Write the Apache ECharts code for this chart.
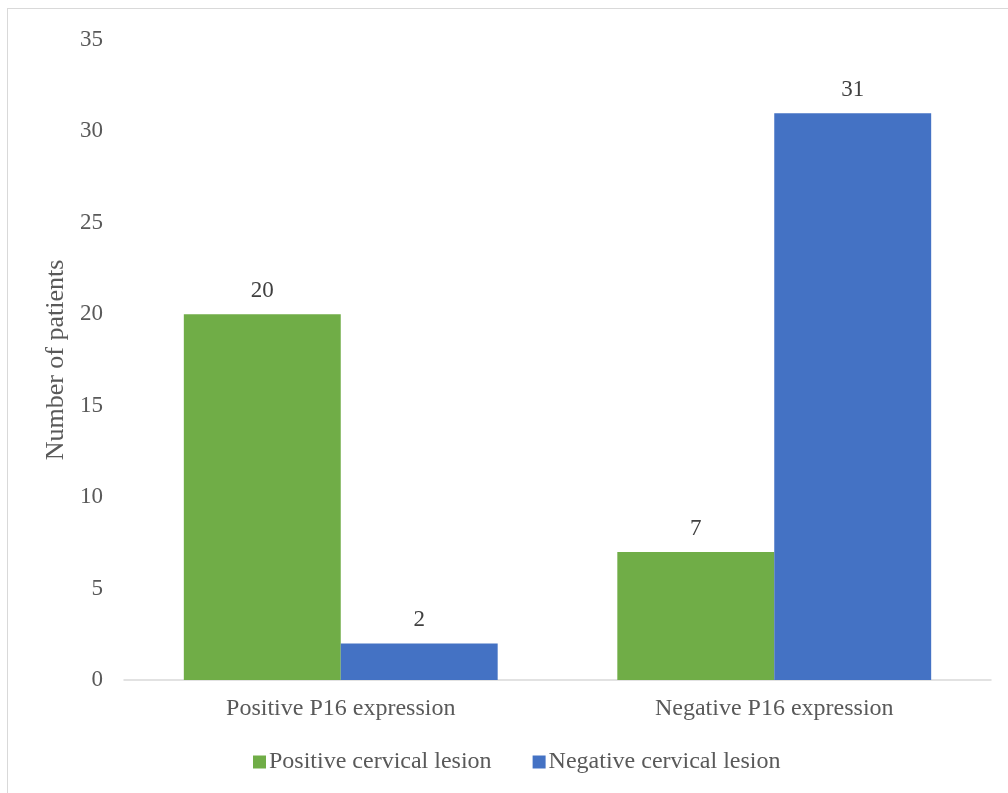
<!DOCTYPE html>
<html>
<head>
<meta charset="utf-8">
<script src="https://cdn.jsdelivr.net/npm/echarts@6/dist/echarts.min.js"></script>
<style>
  html, body { margin: 0; padding: 0; background: #fff; }
  #frame { position: absolute; left: 7px; top: 8px; width: 1010px; height: 800px; border-left: 1.5px solid #d9d9d9; border-top: 1.5px solid #d9d9d9; box-sizing: border-box; }
  #chart { width: 1008px; height: 793px; position: absolute; left: 0; top: 0; }
</style>
</head>
<body>
<div id="frame"></div>
<div id="chart"></div>
<script>
// P16 expression groups and patient counts per lesion outcome
const categories = ['Positive P16 expression', 'Negative P16 expression'];
const positiveLesion = [20, 7];
const negativeLesion = [2, 31];
const seriesNames = ['Positive cervical lesion', 'Negative cervical lesion'];

const font = '"Liberation Serif", "Times New Roman", serif';
const textColor = '#595959';

const chart = echarts.init(document.getElementById('chart'), null, { renderer: 'canvas' });
chart.setOption({
  animation: false,
  backgroundColor: 'transparent',
  textStyle: { fontFamily: font },
  grid: { left: 124, right: 17, top: 40, bottom: 113, containLabel: false },
  legend: {
    bottom: 14,
    left: 248,
    itemWidth: 13,
    itemHeight: 13,
    itemGap: 41,
    icon: 'rect',
    textStyle: { fontFamily: font, fontSize: 24, color: textColor, padding: [0, 0, 0, -2] },
    data: seriesNames
  },
  xAxis: {
    type: 'category',
    data: categories,
    axisLine: { lineStyle: { color: '#d9d9d9', width: 1.5 } },
    axisTick: { show: false },
    axisLabel: { fontFamily: font, fontSize: 24, color: textColor, margin: 17 }
  },
  yAxis: {
    type: 'value',
    min: 0,
    max: 35,
    interval: 5,
    name: 'Number of patients',
    nameLocation: 'middle',
    nameGap: 54,
    nameTextStyle: { fontFamily: font, fontSize: 26, color: textColor },
    axisLine: { show: false },
    axisTick: { show: false },
    splitLine: { show: false },
    axisLabel: { fontFamily: font, fontSize: 23, color: textColor, margin: 21 }
  },
  series: [
    {
      name: seriesNames[0],
      type: 'bar',
      data: positiveLesion,
      barGap: '0%',
      barCategoryGap: '27.6%',
      itemStyle: { color: '#70ad47' },
      label: { show: true, position: 'top', distance: 12, fontFamily: font, fontSize: 23, color: '#404040' }
    },
    {
      name: seriesNames[1],
      type: 'bar',
      data: negativeLesion,
      barGap: '0%',
      barCategoryGap: '27.6%',
      itemStyle: { color: '#4472c4' },
      label: { show: true, position: 'top', distance: 12, fontFamily: font, fontSize: 23, color: '#404040' }
    }
  ]
});
</script>
</body>
</html>
